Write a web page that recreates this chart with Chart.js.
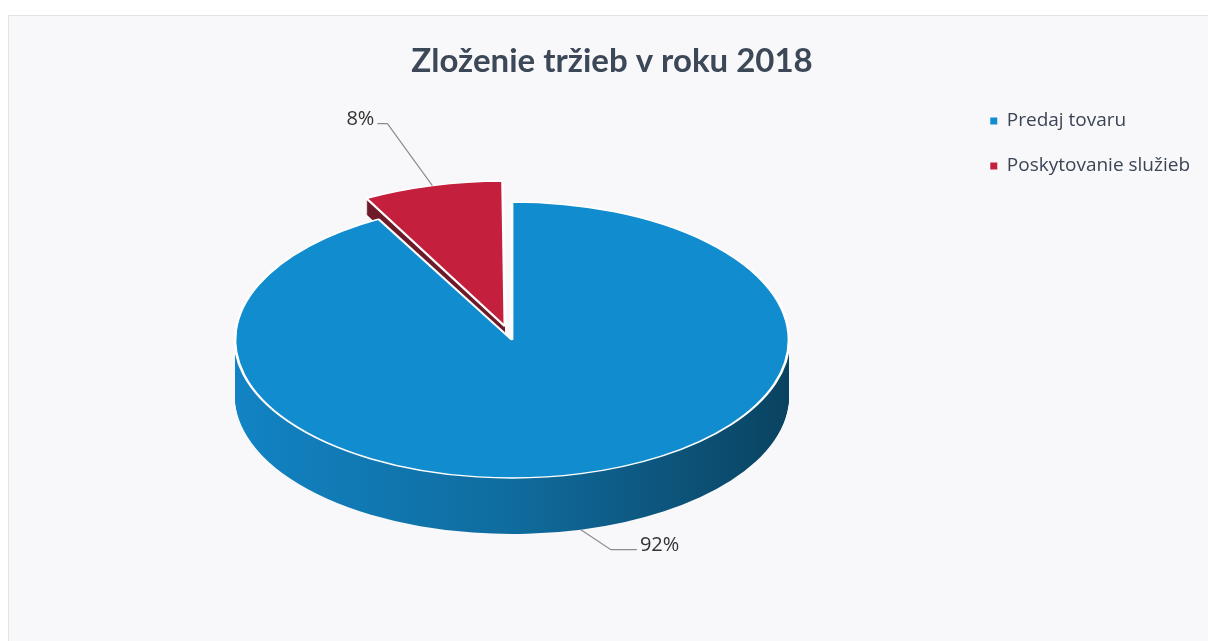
<!DOCTYPE html>
<html>
<head>
<meta charset="utf-8">
<title>Zloženie tržieb v roku 2018</title>
<script src="https://cdn.jsdelivr.net/npm/chart.js"></script>
<style>
  body { margin: 0; background: #fff; }
  #panel { position: absolute; left: 8px; top: 15px; right: 0; bottom: 0; background: #f8f8fa; border-left: 1px solid #e4e4e8; border-top: 1px solid #e4e4e8; }
  #myChart { position: absolute; left: 0; top: 0; }
</style>
</head>
<body>
<div id="panel"></div>
<canvas id="myChart" width="1208" height="641"></canvas>
<script>
const labels = ['Predaj tovaru', 'Poskytovanie služieb'];
const values = [92, 8];
const chartTitle = 'Zloženie tržieb v roku 2018';

// look of the fake 3d pie
const topColors = ['#118dcf', '#c4203d'];
const sideColors = [['#1283c4', '#0f6c9e', '#0a4361'], ['#6e1a28', '#6e1a28', '#5a1420']];
const depths = [56, 16];
const CX = 512, CY = 340, RX = 277, RY = 138, R = 200;
const leaders = [{dx: 30, dy: 20, h: 26}, {dx: -45, dy: -62, h: -10}];

const sx = RX / R, sy = RY / R;

function tiltTo(ctx, x0, y0) {
   ctx.translate(CX, CY);
   ctx.scale(sx, sy);
   ctx.translate(-x0, -y0);
}

const tilt = {
   id: 'tilt',
   beforeDatasetsDraw(chart) {
      const ctx = chart.ctx;
      const arcs = chart.getDatasetMeta(0).data;
      const x0 = arcs[0].x, y0 = arcs[0].y;
      for (let i = 0; i < arcs.length; i++) {
         const arc = arcs[i];
         const grad = ctx.createLinearGradient(x0 - R, 0, x0 + R, 0);
         grad.addColorStop(0, sideColors[i][0]);
         grad.addColorStop(0.5, sideColors[i][1]);
         grad.addColorStop(1, sideColors[i][2]);
         const orig = arc.options;
         arc.options = Object.assign({}, orig, {backgroundColor: grad, borderWidth: 0});
         for (let d = depths[i]; d >= 1; d--) {
            ctx.save();
            ctx.translate(0, d);
            tiltTo(ctx, x0, y0);
            arc.draw(ctx);
            ctx.restore();
         }
         arc.options = orig;
      }
      ctx.save();
      tiltTo(ctx, x0, y0);
   },
   afterDatasetsDraw(chart) {
      const ctx = chart.ctx;
      ctx.restore();
      const arcs = chart.getDatasetMeta(0).data;
      const x0 = arcs[0].x, y0 = arcs[0].y;
      const total = values.reduce((a, b) => a + b, 0);
      ctx.save();
      ctx.font = '20px "Open Sans"';
      ctx.fillStyle = '#333333';
      ctx.strokeStyle = '#8c8c8c';
      ctx.lineWidth = 1.2;
      ctx.textBaseline = 'middle';
      for (let i = 0; i < arcs.length; i++) {
         const arc = arcs[i];
         const half = (arc.startAngle + arc.endAngle) / 2;
         const o = (arc.options.offset || 0) / 4;
         const circ = arc.endAngle - arc.startAngle;
         const r = arc.outerRadius + o * (1 - Math.sin(Math.min(Math.PI, circ)));
         const ux = arc.x + Math.cos(half) * (o + r);
         const uy = arc.y + Math.sin(half) * (o + r);
         const px = CX + sx * (ux - x0);
         let py = CY + sy * (uy - y0);
         if (Math.sin(half) > 0) py += depths[i];
         const L = leaders[i];
         const ex = px + L.dx, ey = py + L.dy;
         ctx.beginPath();
         ctx.moveTo(px, py);
         ctx.lineTo(ex, ey);
         ctx.lineTo(ex + L.h, ey);
         ctx.stroke();
         ctx.textAlign = L.h > 0 ? 'left' : 'right';
         ctx.fillText(Math.round(values[i] / total * 100) + '%', ex + L.h + (L.h > 0 ? 3 : -3), ey - 4);
      }
      ctx.restore();
   }
};

new Chart(document.getElementById('myChart'), {
   type: 'pie',
   data: {
      labels: labels,
      datasets: [{
         data: values,
         backgroundColor: topColors,
         borderColor: '#ffffff',
         borderWidth: 2,
         offset: [0, 82]
      }]
   },
   options: {
      responsive: false,
      animation: false,
      radius: R,
      layout: { padding: { left: 24, right: 8 } },
      plugins: {
         title: {
            display: true,
            text: chartTitle,
            color: '#3c4858',
            font: { family: 'Lato', size: 33, weight: 'bold' },
            padding: { top: 42, bottom: 24 }
         },
         legend: {
            position: 'right',
            align: 'start',
            title: { display: true, text: ' ', padding: { top: 71, bottom: 0 } },
            labels: {
               color: '#3b4555',
               font: { family: 'Open Sans', size: 19 },
               boxWidth: 7,
               boxHeight: 7,
               padding: 26,
               generateLabels: (chart) => Chart.overrides.pie.plugins.legend.labels.generateLabels(chart)
                  .map(l => Object.assign(l, { lineWidth: 0 }))
            }
         },
         tooltip: { enabled: false }
      }
   },
   plugins: [tilt]
});
</script>
</body>
</html>
